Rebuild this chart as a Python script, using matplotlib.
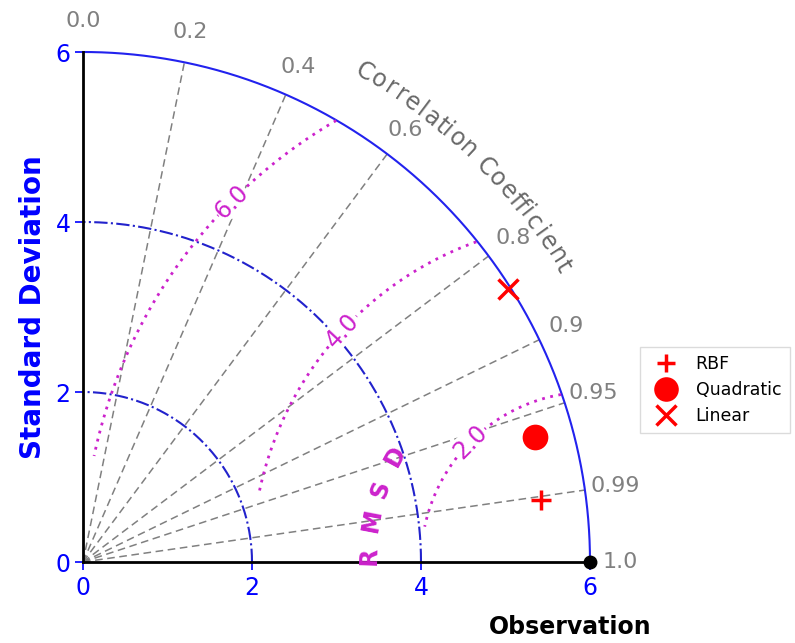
import matplotlib
matplotlib.use('Agg')
import matplotlib.pyplot as plt
import numpy as np

# 模型数据: 标准差与相关系数
names = ['RBF', 'Quadratic', 'Linear']
sdev = [5.47, 5.55, 5.97]
ccoef = [0.991, 0.964, 0.843]
markers = ['+', 'o', 'x']
msizes = [14, 16, 15]

# 参考值 (观测)
ref_std = 6.0

# 网格刻度
std_ticks = [0, 2, 4, 6]
std_arcs = [2, 4]
corr_lines = [0.2, 0.4, 0.6, 0.8, 0.9, 0.95, 0.99]
corr_labels = [0.0, 0.2, 0.4, 0.6, 0.8, 0.9, 0.95, 0.99, 1.0]
rms_levels = [2.0, 4.0, 6.0]
rms_label_angle = [135, 137, 135]  # 标签在等值线上的位置 (度)

fig = plt.figure(figsize=(7.95, 6.43), dpi=100)
ax = fig.add_axes([83 / 795, 81 / 643, 507 / 795, 510 / 643])
ax.set_xlim(0, 6)
ax.set_ylim(0, 6)
for s in ['top', 'right']:
    ax.spines[s].set_visible(False)
for s in ['left', 'bottom']:
    ax.spines[s].set_color('black')
    ax.spines[s].set_linewidth(2)
    ax.spines[s].set_zorder(4)
ax.set_xticks(std_ticks)
ax.set_yticks(std_ticks)
ax.tick_params(colors='blue', labelsize=17, length=6, width=1.2)
ax.tick_params(axis='x', pad=4)
ax.tick_params(axis='y', pad=3)

# 外圈
t = np.linspace(0, np.pi / 2, 300)
ax.plot(ref_std * np.cos(t), ref_std * np.sin(t), color='#2222ee', lw=1.5, clip_on=False)

# 标准差圆弧
for r in std_arcs:
    ax.plot(r * np.cos(t), r * np.sin(t), color='#2222cc', lw=1.5, ls='-.', clip_on=False)

# 相关系数线
for c in corr_lines:
    th = np.arccos(c)
    ax.plot([0, ref_std * np.cos(th)], [0, ref_std * np.sin(th)],
            color='gray', lw=1.1, ls=(0, (5, 3)), zorder=1)

for c in corr_labels:
    th = np.arccos(c)
    ax.text(6.36 * np.cos(th), 6.36 * np.sin(th), f'{c:g}' if c not in (0.0, 1.0) else f'{c:.1f}',
            color='gray', fontsize=16, ha='center', va='center', clip_on=False)

# "Correlation Coefficient" 沿弧排列, 按字宽分配角度
title = 'Correlation Coefficient'
wts = np.array([0.5 if ch in 'lti f' else (0.75 if ch == 'r' else 1.0) for ch in title])
cum = np.cumsum(wts) - wts / 2
angs = 60 - (60 - 31.5) * (cum - cum[0]) / (cum[-1] - cum[0])
for ch, a in zip(title, angs):
    ar = np.radians(a)
    ax.text(6.66 * np.cos(ar), 6.66 * np.sin(ar), ch, rotation=a - 90,
            color='dimgray', fontsize=17, ha='center', va='center', clip_on=False)

# RMSD 等值线
for r, la in zip(rms_levels, rms_label_angle):
    tt = np.radians(np.linspace(0, 168, 600))
    xs = ref_std + r * np.cos(tt)
    ys = r * np.sin(tt)
    keep = (xs ** 2 + ys ** 2 <= ref_std ** 2) & (xs >= 0)
    ax.plot(xs[keep], ys[keep], color='#cc22cc', lw=2, ls=(0, (1, 2)), zorder=2)
    lr = np.radians(la)
    ax.text(ref_std + r * np.cos(lr), r * np.sin(lr), f'{r:.1f}', rotation=la - 90,
            color='#cc22cc', fontsize=17, ha='center', va='center', rotation_mode='anchor',
            bbox=dict(facecolor='white', edgecolor='none', pad=0.3), zorder=3)

# RMSD 标签
for ch, a in zip('RMSD', [178.3, 169.2, 161.0, 151.5]):
    ar = np.radians(a)
    ax.text(ref_std + 2.62 * np.cos(ar), 2.62 * np.sin(ar), ch, rotation=a - 90,
            color='#cc22cc', fontsize=17, fontweight='bold', ha='center', va='center',
            clip_on=False, zorder=5)

# 观测点
ax.plot(ref_std, 0, 'o', color='black', ms=9, clip_on=False, zorder=6)

# 模型点
for n, s, c, m, ms in zip(names, sdev, ccoef, markers, msizes):
    th = np.arccos(c)
    ax.plot(s * np.cos(th), s * np.sin(th), m, color='red', ms=ms, mew=2.5,
            ls='none', label=n, clip_on=False, zorder=6)

ax.set_ylabel('Standard Deviation', color='blue', fontsize=20, fontweight='bold', labelpad=6)
ax.text(5.76, -0.76, 'Observation', color='black', fontsize=17, fontweight='bold',
        ha='center', va='center', clip_on=False)

fig.legend(loc='center left', bbox_to_anchor=(640 / 795, 1 - 390 / 643), fontsize=12.5,
           frameon=True, fancybox=False, edgecolor='lightgray', handletextpad=0.7,
           labelspacing=0.45, borderpad=0.5, markerscale=0.95, borderaxespad=0)

fig.savefig('out.png', dpi=100)
